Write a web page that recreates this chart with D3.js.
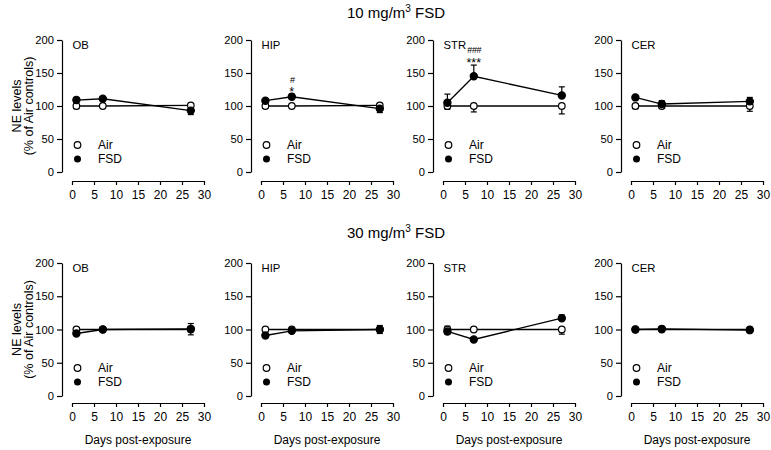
<!DOCTYPE html>
<html><head><meta charset="utf-8">
<script src="https://cdn.jsdelivr.net/npm/d3@7"></script>
<style>body{margin:0;background:#fff}svg{display:block;font-family:Arial,"Liberation Sans",sans-serif}</style>
</head><body><svg id="c" width="771" height="450"></svg>
<script>
const days = [1, 7, 27];
const regions = ["OB", "HIP", "STR", "CER"];
const rowTitles = ["10 mg/m", "30 mg/m"];
const xTicks = [0, 5, 10, 15, 20, 25, 30];
const yTicks = [0, 50, 100, 150, 200];
// row 0: 10 mg/m3, row 1: 30 mg/m3 ; one sub-array per region
const air10 = [[100,100,101],[100,100,101],[100,100,100],[100,100,100]];
const air10Err = [[4,2,2],[3,2,3],[5,9,12],[4,3,8]];
const fsd10 = [[109,111,93],[108,114,96],[105,145,116],[113,103,107]];
const fsd10Err = [[4,3,6],[2,4,6],[13,17,13],[2,5,6]];
const air30 = [[100,100,100],[100,100,100],[100,100,100],[100,100,100]];
const air30Err = [[3,2,8],[2,2,6],[5,3,7],[2,2,3]];
const fsd30 = [[94,100,101],[91,98,100],[97,85,117],[100,101,99]];
const fsd30Err = [[2,4,8],[2,2,6],[4,2,5],[2,3,3]];
const annotations = [
  {row:0, region:1, day:7, stars:"*", hash:"#"},
  {row:0, region:2, day:7, stars:"***", hash:"###"}
];

const svg = d3.select("#c");
const panelX = [62, 251, 433, 621];
const rows = [
  {yTop:40, yBot:172, xAxisY:181, air:air10, airErr:air10Err, fsd:fsd10, fsdErr:fsd10Err, titleY:18},
  {yTop:263, yBot:396, xAxisY:403, air:air30, airErr:air30Err, fsd:fsd30, fsdErr:fsd30Err, titleY:238}
];

rows.forEach((row, ri) => {
  const t = svg.append("text").attr("x", 396).attr("y", row.titleY).attr("text-anchor","middle")
    .attr("font-size", 15).text(rowTitles[ri]);
  t.append("tspan").attr("font-size", 10).attr("dy", -6).text("3");
  t.append("tspan").attr("dy", 6).text(" FSD");

  regions.forEach((reg, gi) => {
    const ax = panelX[gi];
    const x = d3.scaleLinear().domain([0, 30]).range([ax + 10, ax + 142]);
    const y = d3.scaleLinear().domain([0, 200]).range([row.yBot, row.yTop]);
    const g = svg.append("g");

    const yAx = g.append("g").attr("transform", `translate(${ax},0)`)
      .call(d3.axisLeft(y).tickValues(yTicks).tickSize(5).tickSizeOuter(0).tickPadding(3));
    const xAx = g.append("g").attr("transform", `translate(0,${row.xAxisY})`)
      .call(d3.axisBottom(x).tickValues(xTicks).tickSize(4).tickSizeOuter(0).tickPadding(5));
    [yAx, xAx].forEach(a => {
      a.selectAll("text").attr("font-family", "Arial, 'Liberation Sans', sans-serif").attr("fill", "#000");
      a.selectAll("path,line").attr("stroke", "#000").attr("stroke-width", 1.2);
    });
    yAx.selectAll("text").attr("font-size", 11.2);
    xAx.selectAll("text").attr("font-size", 12);

    g.append("text").attr("x", ax + 10.5).attr("y", row.yTop + 9).attr("font-size", 11.3).text(reg);

    // legend
    const lx = ax + 15.5, ly1 = row.yTop + 105, ly2 = row.yTop + 119;
    g.append("circle").attr("cx", lx).attr("cy", ly1).attr("r", 3.3).attr("fill", "#fff").attr("stroke", "#000").attr("stroke-width", 1.2);
    g.append("circle").attr("cx", lx).attr("cy", ly2).attr("r", 3.5).attr("fill", "#000");
    g.append("text").attr("x", ax + 36).attr("y", ly1 + 4).attr("font-size", 12).text("Air");
    g.append("text").attr("x", ax + 36).attr("y", ly2 + 4).attr("font-size", 12).text("FSD");

    const airV = row.air[gi], airE = row.airErr[gi], fsdV = row.fsd[gi], fsdE = row.fsdErr[gi];
    const line = d3.line().x(d => x(d[0])).y(d => y(d[1]));
    const series = [
      {v: airV, e: airE, fill: "#fff", other: fsdV, isAir: true},
      {v: fsdV, e: fsdE, fill: "#000", other: airV, isAir: false}
    ];
    series.forEach(s => {
      days.forEach((d, i) => {
        const dir = s.isAir ? (s.v[i] > s.other[i] ? 1 : -1) : (s.v[i] >= s.other[i] ? 1 : -1);
        const end = s.v[i] + dir * s.e[i];
        g.append("line").attr("x1", x(d)).attr("x2", x(d)).attr("y1", y(s.v[i])).attr("y2", y(end))
          .attr("stroke", "#000").attr("stroke-width", 1.2);
        g.append("line").attr("x1", x(d) - 3).attr("x2", x(d) + 3).attr("y1", y(end)).attr("y2", y(end))
          .attr("stroke", "#000").attr("stroke-width", 1.2);
      });
    });
    series.forEach(s => {
      g.append("path").datum(days.map((d, i) => [d, s.v[i]])).attr("d", line)
        .attr("fill", "none").attr("stroke", "#000").attr("stroke-width", 1.3);
    });
    series.forEach(s => {
      g.selectAll(null).data(days.map((d, i) => [d, s.v[i]])).enter().append("circle")
        .attr("cx", d => x(d[0])).attr("cy", d => y(d[1])).attr("r", s.isAir ? 3.3 : 3.6)
        .attr("fill", s.fill).attr("stroke", "#000").attr("stroke-width", 1.2);
    });

    annotations.filter(a => a.row === ri && a.region === gi).forEach(a => {
      const i = days.indexOf(a.day);
      const top = y(fsdV[i] + fsdE[i]);
      const b2 = top + 2;
      g.append("text").attr("x", x(a.day)).attr("y", b2).attr("text-anchor", "middle")
        .attr("font-size", 12.5).text(a.stars);
      g.append("text").attr("x", x(a.day) + 0.4).attr("y", b2 - 13.6).attr("text-anchor", "middle")
        .attr("font-size", 9).attr("letter-spacing", -0.4).text(a.hash);
    });

    if (ri === 1) {
      g.append("text").attr("x", (x(0) + x(30)) / 2).attr("y", 444).attr("text-anchor", "middle")
        .attr("font-size", 12).text("Days post-exposure");
    }
    if (gi === 0) {
      const cy = (row.yTop + row.yBot) / 2;
      g.append("text").attr("transform", `translate(21,${cy}) rotate(-90)`).attr("text-anchor", "middle")
        .attr("font-size", 12.5).text("NE levels");
      g.append("text").attr("transform", `translate(33,${cy}) rotate(-90)`).attr("text-anchor", "middle")
        .attr("font-size", 12.5).text("(% of Air controls)");
    }
  });
});
</script></body></html>
